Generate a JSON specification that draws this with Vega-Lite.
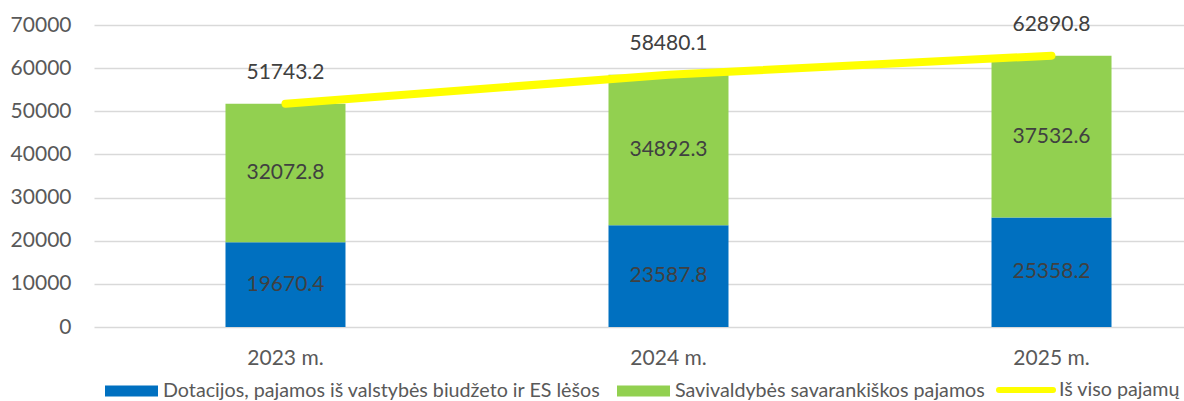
{
  "$schema": "https://vega.github.io/schema/vega-lite/v6.json",
  "width": 1090,
  "height": 302,
  "autosize": "none",
  "padding": {"left": 94, "top": 25, "right": 0, "bottom": 74},
  "background": "white",
  "config": {"view": {"stroke": null}, "font": "Lato"},
  "datasets": {
    "parts": [
      {"year": "2023 m.", "series": "Dotacijos, pajamos iš valstybės biudžeto ir ES lėšos", "value": 19670.4},
      {"year": "2023 m.", "series": "Savivaldybės savarankiškos pajamos", "value": 32072.8},
      {"year": "2024 m.", "series": "Dotacijos, pajamos iš valstybės biudžeto ir ES lėšos", "value": 23587.8},
      {"year": "2024 m.", "series": "Savivaldybės savarankiškos pajamos", "value": 34892.3},
      {"year": "2025 m.", "series": "Dotacijos, pajamos iš valstybės biudžeto ir ES lėšos", "value": 25358.2},
      {"year": "2025 m.", "series": "Savivaldybės savarankiškos pajamos", "value": 37532.6}
    ],
    "totals": [
      {"year": "2023 m.", "series": "Iš viso pajamų", "value": 51743.2},
      {"year": "2024 m.", "series": "Iš viso pajamų", "value": 58480.1},
      {"year": "2025 m.", "series": "Iš viso pajamų", "value": 62890.8}
    ]
  },
  "encoding": {
    "x": {
      "field": "year",
      "type": "nominal",
      "sort": null,
      "scale": {"range": [0, 1149], "paddingInner": 0.6867, "paddingOuter": 0.3433},
      "axis": {
        "title": null,
        "domain": false,
        "ticks": false,
        "labelAngle": 0,
        "labelFontSize": 21,
        "labelColor": "#595959",
        "labelBaseline": "middle",
        "labelPadding": 31
      }
    }
  },
  "layer": [
    {
      "data": {"name": "parts"},
      "mark": {"type": "bar"},
      "encoding": {
        "y": {
          "field": "value",
          "type": "quantitative",
          "stack": "zero",
          "scale": {"domain": [0, 70000], "nice": false},
          "axis": {
            "title": null,
            "values": [0, 10000, 20000, 30000, 40000, 50000, 60000, 70000],
            "format": "d",
            "grid": true,
            "gridColor": "#d9d9d9",
            "gridWidth": 1.5,
            "domain": false,
            "ticks": false,
            "labelPadding": 23,
            "labelFontSize": 21,
            "labelColor": "#595959"
          }
        },
        "order": {"field": "series", "type": "nominal", "sort": "ascending"},
        "fill": {
          "field": "series",
          "type": "nominal",
          "scale": {
            "domain": ["Dotacijos, pajamos iš valstybės biudžeto ir ES lėšos", "Savivaldybės savarankiškos pajamos"],
            "range": ["#0070C0", "#92D050"]
          },
          "legend": {
            "title": null,
            "orient": "none",
            "legendX": 11,
            "legendY": 339,
            "direction": "horizontal",
            "symbolType": "M-1,-0.2075H1V0.2075H-1Z",
            "symbolSize": 2809,
            "symbolStrokeWidth": 0,
            "labelFontSize": 19.7,
            "labelColor": "#595959",
            "labelOffset": 5,
            "labelLimit": 600,
            "columnPadding": 16
          }
        }
      }
    },
    {
      "data": {"name": "parts"},
      "mark": {"type": "text", "fontSize": 21, "color": "#404040", "baseline": "middle"},
      "encoding": {
        "y": {"field": "value", "type": "quantitative", "stack": "zero", "bandPosition": 0.5},
        "order": {"field": "series", "type": "nominal", "sort": "ascending"},
        "detail": {"field": "series", "type": "nominal"},
        "text": {"field": "value", "type": "quantitative", "format": ".1f"}
      }
    },
    {
      "data": {"name": "totals"},
      "mark": {"type": "line", "strokeWidth": 8, "strokeCap": "round"},
      "encoding": {
        "y": {"field": "value", "type": "quantitative"},
        "stroke": {
          "field": "series",
          "type": "nominal",
          "scale": {"domain": ["Iš viso pajamų"], "range": ["#FFFF00"]},
          "legend": {
            "title": null,
            "orient": "none",
            "legendX": 902,
            "legendY": 335,
            "symbolType": "stroke",
            "symbolSize": 2916,
            "symbolStrokeWidth": 6,
            "labelFontSize": 19.7,
            "labelColor": "#595959",
            "labelOffset": 3,
            "labelLimit": 600,
            "encode": {"symbols": {"update": {"strokeCap": {"value": "round"}}}}
          }
        }
      }
    },
    {
      "data": {"name": "totals"},
      "mark": {"type": "text", "fontSize": 21, "color": "#404040", "baseline": "middle", "dy": -31},
      "encoding": {
        "y": {"field": "value", "type": "quantitative"},
        "text": {"field": "value", "type": "quantitative", "format": ".1f"}
      }
    }
  ]
}
